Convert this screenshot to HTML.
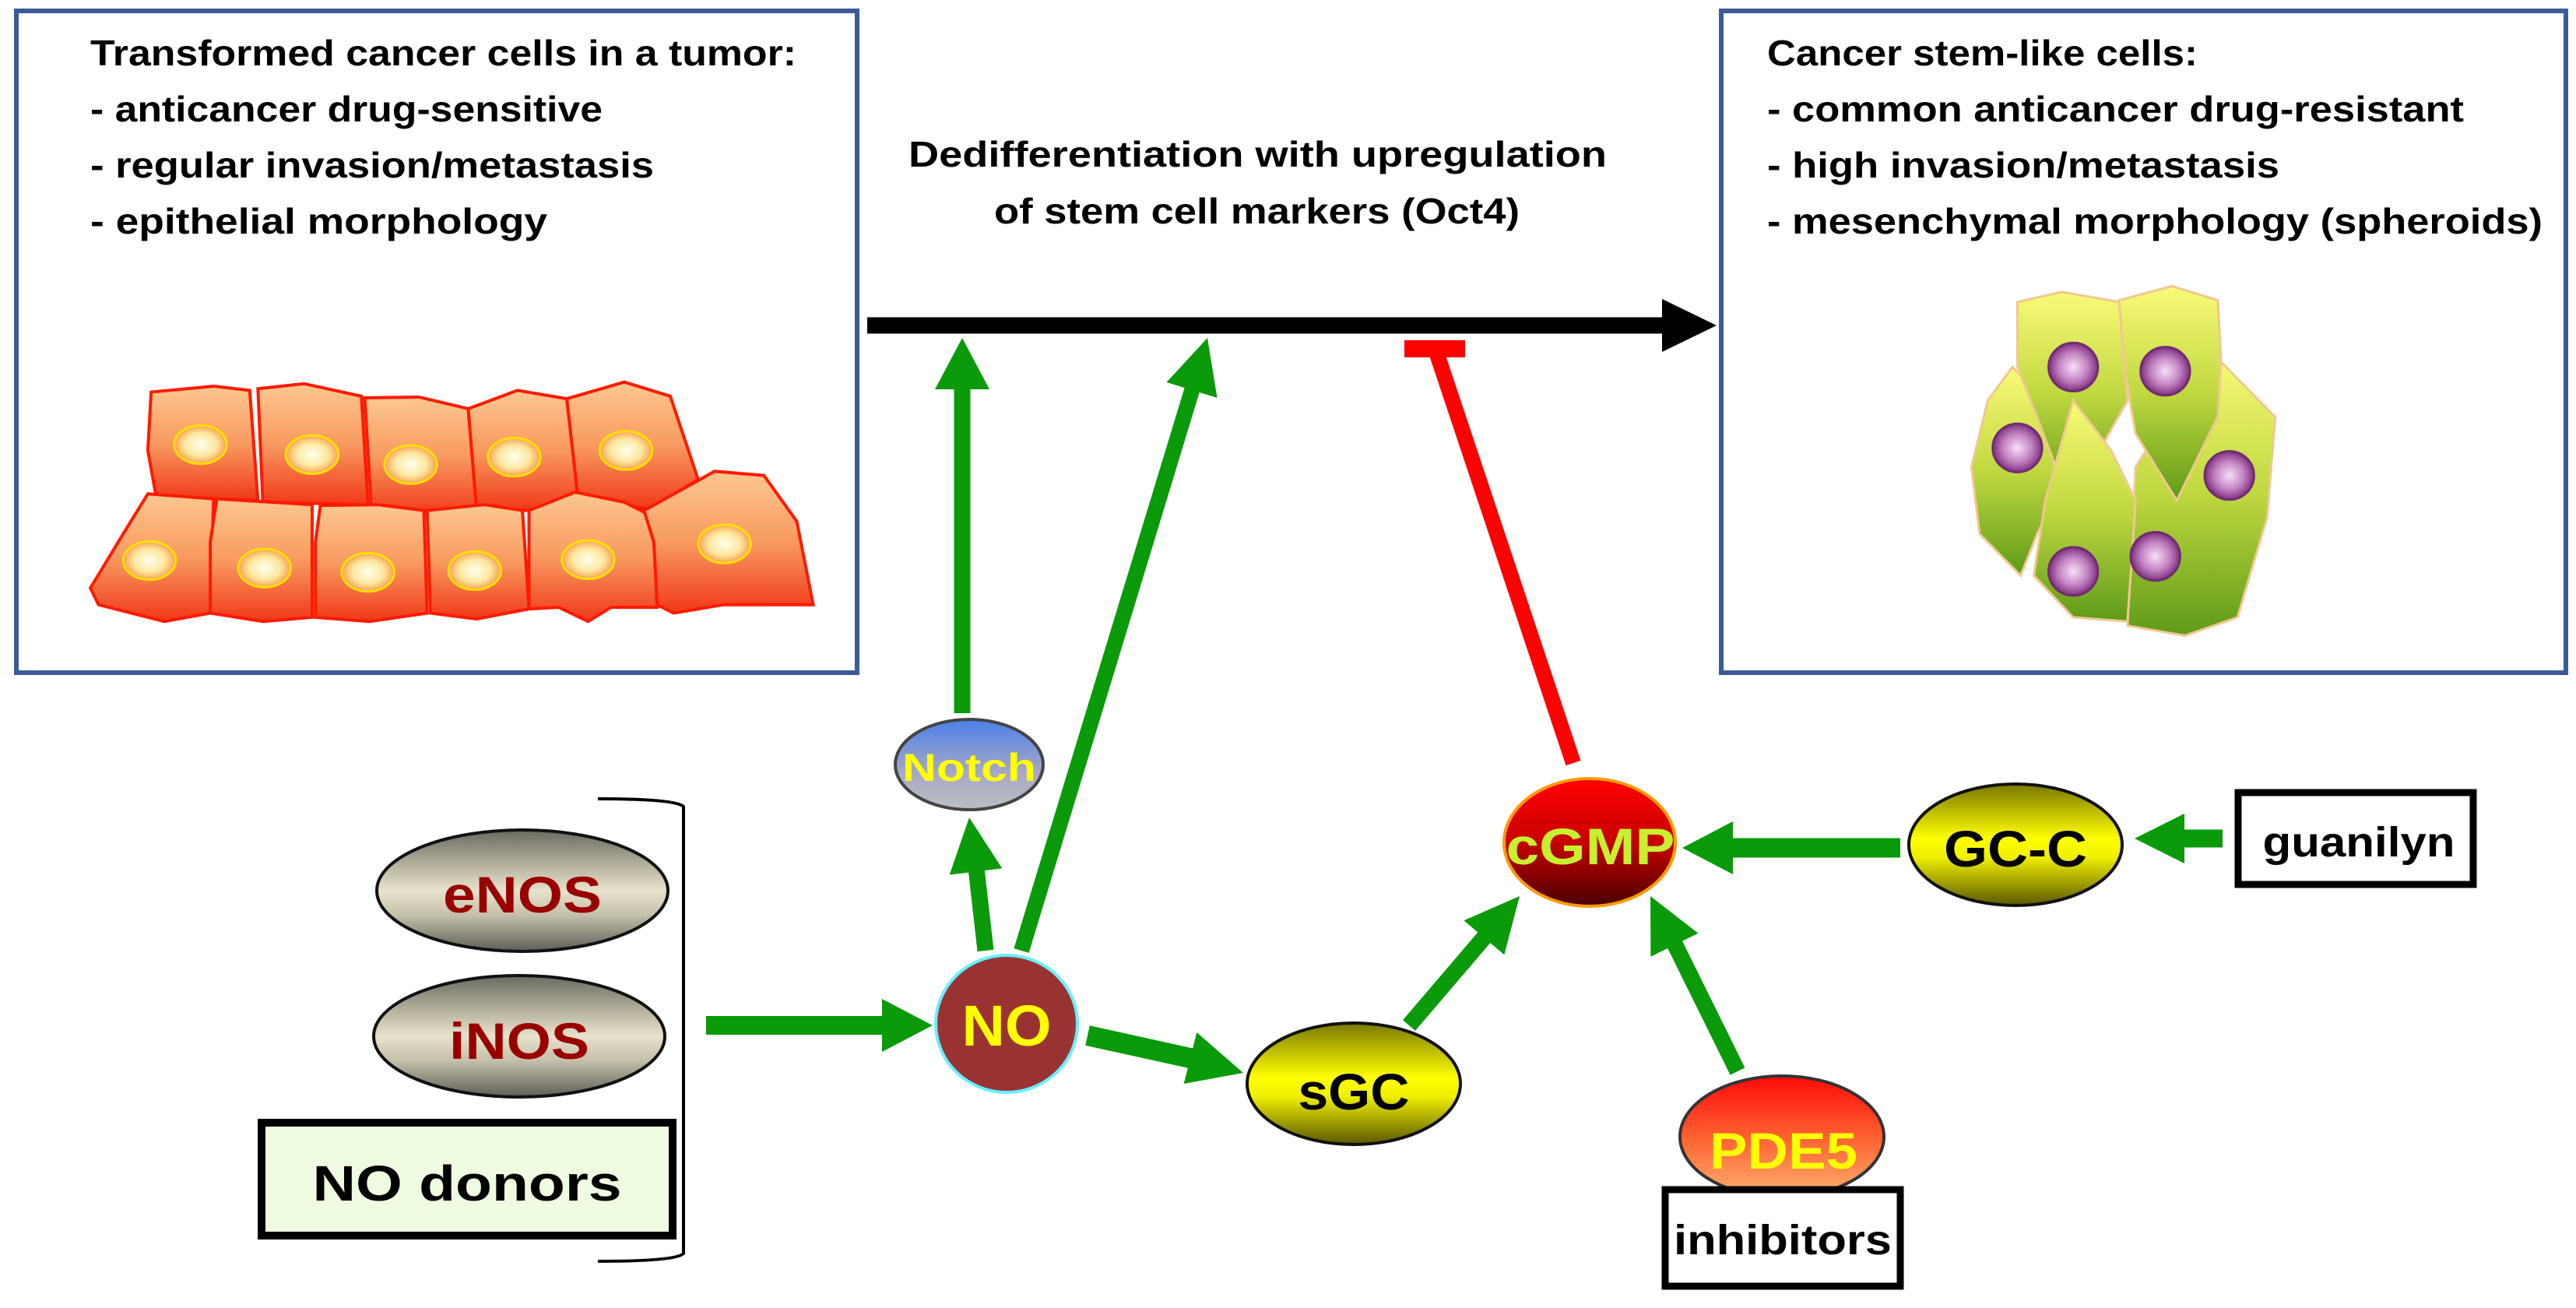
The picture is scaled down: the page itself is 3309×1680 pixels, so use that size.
<!DOCTYPE html>
<html><head><meta charset="utf-8"><style>
html,body{margin:0;padding:0;background:#fff;}
svg{display:block;}
text{font-family:"Liberation Sans",sans-serif;font-weight:bold;}
</style></head><body>
<svg width="3309" height="1680" viewBox="0 0 3309 1680" xmlns="http://www.w3.org/2000/svg">
<defs>
<linearGradient id="org" x1="0" y1="0" x2="0" y2="1"><stop offset="0" stop-color="#fdc890"/><stop offset="0.5" stop-color="#f89a60"/><stop offset="1" stop-color="#f03818"/></linearGradient>
<radialGradient id="nucY" cx="0.5" cy="0.5" r="0.5"><stop offset="0" stop-color="#fffff0"/><stop offset="0.6" stop-color="#fde8a0"/><stop offset="1" stop-color="#f8a050"/></radialGradient>
<linearGradient id="grn" x1="0" y1="0" x2="0" y2="1"><stop offset="0" stop-color="#fafa78"/><stop offset="0.5" stop-color="#c0d840"/><stop offset="1" stop-color="#5e9a18"/></linearGradient>
<radialGradient id="nucP" cx="0.5" cy="0.5" r="0.5"><stop offset="0" stop-color="#f8e0f8"/><stop offset="0.6" stop-color="#c080c0"/><stop offset="1" stop-color="#803080"/></radialGradient>
<linearGradient id="gray" x1="0" y1="0" x2="0" y2="1"><stop offset="0" stop-color="#6a6a62"/><stop offset="0.3" stop-color="#b8b4a0"/><stop offset="0.5" stop-color="#e6e2cc"/><stop offset="0.7" stop-color="#c4c0aa"/><stop offset="1" stop-color="#5e5e56"/></linearGradient>
<linearGradient id="yel" x1="0" y1="0" x2="0" y2="1"><stop offset="0" stop-color="#7a7800"/><stop offset="0.45" stop-color="#ffff00"/><stop offset="0.6" stop-color="#f0f000"/><stop offset="1" stop-color="#5a5800"/></linearGradient>
<linearGradient id="red" x1="0" y1="0" x2="0" y2="1"><stop offset="0" stop-color="#ff0000"/><stop offset="0.5" stop-color="#c80000"/><stop offset="1" stop-color="#4a0000"/></linearGradient>
<linearGradient id="blu" x1="0" y1="0" x2="0" y2="1"><stop offset="0" stop-color="#4a80e8"/><stop offset="0.6" stop-color="#a8a8c8"/><stop offset="1" stop-color="#b8c0c0"/></linearGradient>
<linearGradient id="pde" x1="0" y1="0" x2="0" y2="1"><stop offset="0" stop-color="#ff0a0a"/><stop offset="0.5" stop-color="#ff6030"/><stop offset="1" stop-color="#ffb070"/></linearGradient>
</defs>

<!-- boxes -->
<rect x="21" y="14" width="1080" height="850" fill="#fff" stroke="#3c5a96" stroke-width="6"/>
<rect x="2211" y="14" width="1085" height="850" fill="#fff" stroke="#3c5a96" stroke-width="6"/>

<!-- left text -->
<text x="116" y="84" font-size="46" textLength="907" lengthAdjust="spacingAndGlyphs">Transformed cancer cells in a tumor:</text>
<text x="116" y="156" font-size="46" textLength="658" lengthAdjust="spacingAndGlyphs">- anticancer drug-sensitive</text>
<text x="116" y="228" font-size="46" textLength="724" lengthAdjust="spacingAndGlyphs">- regular invasion/metastasis</text>
<text x="116" y="300" font-size="46" textLength="587" lengthAdjust="spacingAndGlyphs">- epithelial morphology</text>
<!-- right text -->
<text x="2270" y="84" font-size="46" textLength="553" lengthAdjust="spacingAndGlyphs">Cancer stem-like cells:</text>
<text x="2270" y="156" font-size="46" textLength="895" lengthAdjust="spacingAndGlyphs">- common anticancer drug-resistant</text>
<text x="2270" y="228" font-size="46" textLength="658" lengthAdjust="spacingAndGlyphs">- high invasion/metastasis</text>
<text x="2270" y="300" font-size="46" textLength="996" lengthAdjust="spacingAndGlyphs">- mesenchymal morphology (spheroids)</text>
<!-- middle text -->
<text x="1167" y="214" font-size="46" textLength="897" lengthAdjust="spacingAndGlyphs">Dedifferentiation with upregulation</text>
<text x="1277" y="287" font-size="46" textLength="675" lengthAdjust="spacingAndGlyphs">of stem cell markers (Oct4)</text>

<!-- left cells (zoom coords) -->
<g transform="scale(2.1103,1.0714)" stroke="#ff1a00" stroke-width="4" fill="url(#org)">
<path vector-effect="non-scaling-stroke" d="M92,470 L130,463 L152,468 L157,600 L95,595 L90,540 Z"/>
<path vector-effect="non-scaling-stroke" d="M157,466 L185,460 L220,475 L224,605 L160,602 Z"/>
<path vector-effect="non-scaling-stroke" d="M222,477 L255,476 L285,490 L290,610 L258,618 L226,608 Z"/>
<path vector-effect="non-scaling-stroke" d="M285,490 L315,468 L345,478 L352,600 L320,612 L290,608 Z"/>
<path vector-effect="non-scaling-stroke" d="M345,478 L380,458 L408,475 L425,575 L395,610 L352,600 Z"/>
<path vector-effect="non-scaling-stroke" d="M90,592 L130,598 L128,735 L100,745 L60,725 L55,705 L75,640 Z"/>
<path vector-effect="non-scaling-stroke" d="M132,598 L190,605 L190,740 L160,745 L128,735 L128,650 Z"/>
<path vector-effect="non-scaling-stroke" d="M195,606 L230,605 L258,612 L260,735 L225,745 L192,740 L192,650 Z"/>
<path vector-effect="non-scaling-stroke" d="M260,612 L295,605 L318,612 L322,730 L290,742 L262,735 Z"/>
<path vector-effect="non-scaling-stroke" d="M322,612 L350,590 L380,602 L398,620 L400,728 L372,728 L358,745 L340,728 L322,730 Z"/>
<path vector-effect="non-scaling-stroke" d="M392,612 L435,565 L465,570 L485,625 L495,725 L440,725 L410,735 L400,725 L398,650 Z"/>
</g>
<g transform="scale(2.1103,1.0714)" fill="url(#nucY)" stroke="#ffe000" stroke-width="3">
<ellipse vector-effect="non-scaling-stroke" cx="122" cy="533" rx="16" ry="23"/>
<ellipse vector-effect="non-scaling-stroke" cx="190" cy="545" rx="16" ry="23"/>
<ellipse vector-effect="non-scaling-stroke" cx="250" cy="557" rx="16" ry="23"/>
<ellipse vector-effect="non-scaling-stroke" cx="313" cy="548" rx="16" ry="23"/>
<ellipse vector-effect="non-scaling-stroke" cx="381" cy="540" rx="16" ry="23"/>
<ellipse vector-effect="non-scaling-stroke" cx="91" cy="672" rx="16" ry="23"/>
<ellipse vector-effect="non-scaling-stroke" cx="161" cy="681" rx="16" ry="23"/>
<ellipse vector-effect="non-scaling-stroke" cx="224" cy="686" rx="16" ry="23"/>
<ellipse vector-effect="non-scaling-stroke" cx="289" cy="684" rx="16" ry="23"/>
<ellipse vector-effect="non-scaling-stroke" cx="358" cy="671" rx="16" ry="23"/>
<ellipse vector-effect="non-scaling-stroke" cx="441" cy="652" rx="16" ry="23"/>
</g>

<!-- right cells -->
<g transform="scale(2.1103,1.0714)" stroke="#f0c890" stroke-width="3" fill="url(#grn)">
<path vector-effect="non-scaling-stroke" d="M1225,440 L1245,480 L1258,570 L1240,640 L1230,690 L1205,640 L1200,560 L1210,480 Z"/>
<path vector-effect="non-scaling-stroke" d="M1300,560 L1345,420 L1385,500 L1380,620 L1362,740 L1330,762 L1295,750 Z"/>
<path vector-effect="non-scaling-stroke" d="M1228,362 L1255,350 L1290,362 L1295,480 L1278,540 L1258,595 L1240,500 L1228,440 Z"/>
<path vector-effect="non-scaling-stroke" d="M1290,360 L1322,343 L1350,360 L1352,430 L1350,500 L1325,600 L1300,520 L1293,440 Z"/>
<path vector-effect="non-scaling-stroke" d="M1262,480 L1285,540 L1300,600 L1295,745 L1262,740 L1238,690 L1245,600 Z"/>
</g>
<g transform="scale(2.1103,1.0714)" fill="url(#nucP)" stroke="#702c70" stroke-width="3">
<ellipse vector-effect="non-scaling-stroke" cx="1262" cy="440" rx="15" ry="29"/>
<ellipse vector-effect="non-scaling-stroke" cx="1318" cy="445" rx="15" ry="29"/>
<ellipse vector-effect="non-scaling-stroke" cx="1228" cy="537" rx="15" ry="29"/>
<ellipse vector-effect="non-scaling-stroke" cx="1357" cy="570" rx="15" ry="29"/>
<ellipse vector-effect="non-scaling-stroke" cx="1262" cy="685" rx="15" ry="29"/>
<ellipse vector-effect="non-scaling-stroke" cx="1312" cy="667" rx="15" ry="29"/>
</g>

<!-- black arrow -->
<line x1="1114" y1="418" x2="2140" y2="418" stroke="#000" stroke-width="21"/>
<polygon points="2205,418 2135,384 2135,452" fill="#000"/>

<!-- red inhibition -->
<line x1="2021" y1="980" x2="1846" y2="455" stroke="#ff0000" stroke-width="20"/>
<rect x="1804" y="437" width="78" height="22" fill="#ff0000"/>

<!-- green arrows -->
<g fill="#0a9a0a" stroke="none">
<line x1="1236" y1="916" x2="1236" y2="495" stroke="#0a9a0a" stroke-width="21"/>
<polygon points="1236,434 1201,500 1271,500"/>
<line x1="1312" y1="1221" x2="1533" y2="495" stroke="#0a9a0a" stroke-width="20"/>
<polygon points="1551,434 1563.5,511 1498.5,491"/>
<line x1="1266" y1="1221" x2="1254" y2="1115" stroke="#0a9a0a" stroke-width="21"/>
<polygon points="1245,1050 1287.3,1115.4 1219.7,1123.6"/>
<line x1="907" y1="1317" x2="1138" y2="1317" stroke="#0a9a0a" stroke-width="24"/>
<polygon points="1198,1317 1133,1283 1133,1351"/>
<line x1="1397" y1="1330" x2="1533" y2="1360" stroke="#0a9a0a" stroke-width="26"/>
<polygon points="1597,1378 1520.7,1392 1537.3,1326"/>
<line x1="1810" y1="1317" x2="1910" y2="1200" stroke="#0a9a0a" stroke-width="21"/>
<polygon points="1952,1151 1932.3,1226.4 1880.5,1182.2"/>
<line x1="2232" y1="1376" x2="2149" y2="1208" stroke="#0a9a0a" stroke-width="21"/>
<polygon points="2120,1151 2181.4,1198.7 2120.4,1228.7"/>
<line x1="2441" y1="1089" x2="2220" y2="1089" stroke="#0a9a0a" stroke-width="25"/>
<polygon points="2161,1089 2226,1055 2226,1123"/>
<line x1="2855" y1="1077" x2="2800" y2="1077" stroke="#0a9a0a" stroke-width="23"/>
<polygon points="2742,1077 2806,1045 2806,1109"/>
</g>

<!-- bracket -->
<path d="M768,1026 Q868,1026 878,1036 L878,1610 Q868,1620 768,1620" fill="none" stroke="#000" stroke-width="4"/>

<!-- NOS -->
<ellipse cx="671" cy="1144" rx="187" ry="78" fill="url(#gray)" stroke="#111" stroke-width="4"/>
<text x="671" y="1172" font-size="66" fill="#990000" text-anchor="middle" textLength="204" lengthAdjust="spacingAndGlyphs">eNOS</text>
<ellipse cx="667" cy="1331" rx="187" ry="78" fill="url(#gray)" stroke="#111" stroke-width="4"/>
<text x="667" y="1360" font-size="66" fill="#990000" text-anchor="middle" textLength="180" lengthAdjust="spacingAndGlyphs">iNOS</text>
<rect x="336" y="1442" width="528" height="145" fill="#eefbe0" stroke="#000" stroke-width="10"/>
<text x="600" y="1542" font-size="64" fill="#000" text-anchor="middle" textLength="397" lengthAdjust="spacingAndGlyphs">NO donors</text>

<!-- Notch -->
<ellipse cx="1245" cy="982" rx="95" ry="58" fill="url(#blu)" stroke="#444" stroke-width="4"/>
<text x="1245" y="1003" font-size="50" fill="#ffff00" text-anchor="middle" textLength="172" lengthAdjust="spacingAndGlyphs">Notch</text>
<!-- NO -->
<ellipse cx="1293" cy="1315" rx="91" ry="88" fill="#993333" stroke="#66f0ff" stroke-width="4"/>
<text x="1293" y="1343" font-size="74" fill="#ffff00" text-anchor="middle" textLength="115" lengthAdjust="spacingAndGlyphs">NO</text>
<!-- sGC -->
<ellipse cx="1739" cy="1392" rx="137" ry="78" fill="url(#yel)" stroke="#111" stroke-width="4"/>
<text x="1739" y="1425" font-size="66" fill="#000" text-anchor="middle" textLength="143" lengthAdjust="spacingAndGlyphs">sGC</text>
<!-- cGMP -->
<ellipse cx="2042" cy="1082" rx="110" ry="82" fill="url(#red)" stroke="#ff9900" stroke-width="4"/>
<text x="2043" y="1110" font-size="66" fill="#c8f030" text-anchor="middle" textLength="217" lengthAdjust="spacingAndGlyphs">cGMP</text>
<!-- GC-C -->
<ellipse cx="2589" cy="1085" rx="137" ry="78" fill="url(#yel)" stroke="#111" stroke-width="4"/>
<text x="2589" y="1113" font-size="66" fill="#000" text-anchor="middle" textLength="184" lengthAdjust="spacingAndGlyphs">GC-C</text>
<!-- guanilyn -->
<rect x="2875" y="1018" width="302" height="118" fill="#fff" stroke="#000" stroke-width="9"/>
<text x="3030" y="1100" font-size="54" fill="#000" text-anchor="middle" textLength="247" lengthAdjust="spacingAndGlyphs">guanilyn</text>
<!-- PDE5 -->
<ellipse cx="2289" cy="1460" rx="131" ry="78" fill="url(#pde)" stroke="#333" stroke-width="4"/>
<text x="2291" y="1501" font-size="66" fill="#ffff00" text-anchor="middle" textLength="190" lengthAdjust="spacingAndGlyphs">PDE5</text>
<!-- inhibitors -->
<rect x="2139" y="1528" width="302" height="124" fill="#fff" stroke="#000" stroke-width="9"/>
<text x="2290" y="1611" font-size="54" fill="#000" text-anchor="middle" textLength="280" lengthAdjust="spacingAndGlyphs">inhibitors</text>
</svg>
</body></html>
